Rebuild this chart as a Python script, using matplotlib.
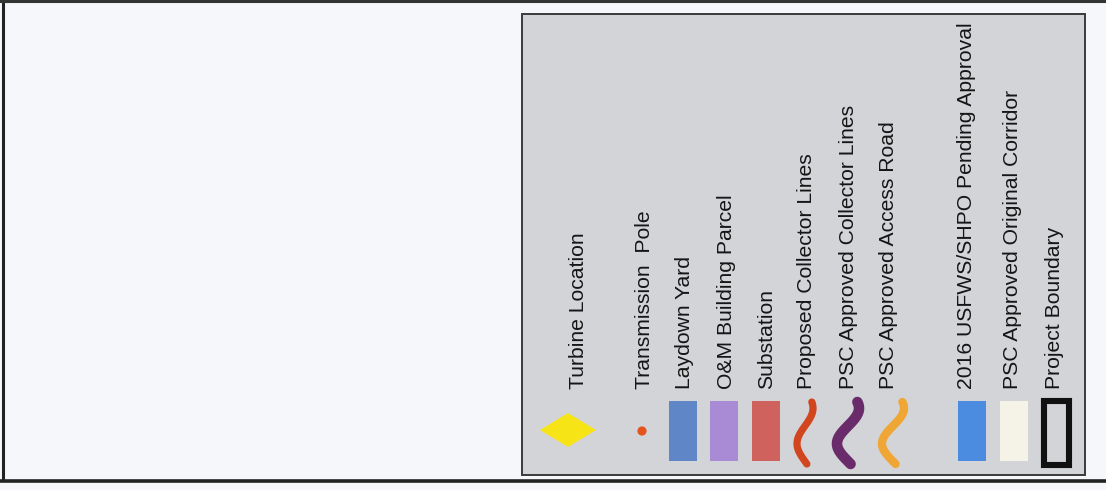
"""Map legend panel (rotated 90 degrees) redrawn with matplotlib."""
import numpy as np
import matplotlib
matplotlib.use("Agg")
import matplotlib.pyplot as plt
from matplotlib.patches import Polygon, Rectangle, Circle

plt.rcParams['font.family'] = ['Liberation Sans', 'DejaVu Sans']

# legend entries, in order
labels = [
    "Turbine Location", "Transmission  Pole", "Laydown Yard", "O&M Building Parcel",
    "Substation", "Proposed Collector Lines", "PSC Approved Collector Lines",
    "PSC Approved Access Road", "2016 USFWS/SHPO Pending Approval",
    "PSC Approved Original Corridor", "Project Boundary",
]
kinds = ["diamond", "dot", "rect", "rect", "rect", "wave", "wave", "wave", "rect", "rect", "outline"]
colors = ["#f7e416", "#e5531f", "#5f86c6", "#a98ad5", "#cf625c", "#d1461f",
          "#6a2b6a", "#f0a634", "#4b8be0", "#f5f2e8", "#111111"]

# layout (pixel-like units, y grows downward)
sym_x = [568, 642, 683, 724, 766, 805, 848, 893, 972, 1014, 1056]
lab_x = [578, 645, 684, 726, 767, 807, 848, 889, 966, 1013, 1054]
wave_lw = {5: 5.2, 6: 7.6, 7: 6.0}
wave_amp = {5: 8, 6: 11, 7: 11}

fig = plt.figure(figsize=(11.06, 4.9), dpi=100)
fig.patch.set_facecolor("#f5f7fb")
ax = fig.add_axes([0, 0, 1, 1])
ax.set_xlim(0, 1106)
ax.set_ylim(490, 0)
ax.axis("off")

# outer sheet frame
ax.plot([3, 3], [1, 481], color="#222222", lw=2.2, solid_capstyle="butt")
ax.plot([0, 1106], [1.5, 1.5], color="#333333", lw=2.2)
ax.plot([0, 1106], [480.5, 480.5], color="#222222", lw=2.6)

# legend box
ax.add_patch(Rectangle((522, 14), 563, 461, facecolor="#d3d4d8",
                       edgecolor="#3a3a3a", lw=1.4))

for i, (lab, kind, col) in enumerate(zip(labels, kinds, colors)):
    cx = sym_x[i]
    if kind == "diamond":
        ax.add_patch(Polygon([(cx - 28, 430), (cx, 413), (cx + 28, 430), (cx, 447)],
                             closed=True, facecolor=col, edgecolor="none"))
    elif kind == "dot":
        ax.add_patch(Circle((cx, 431), 4.6, facecolor=col, edgecolor="none"))
    elif kind == "rect":
        ax.add_patch(Rectangle((cx - 14, 401), 28, 60, facecolor=col, edgecolor="none"))
    elif kind == "outline":
        ax.add_patch(Rectangle((cx - 12.5, 401), 25, 64, facecolor="none",
                               edgecolor=col, lw=4.4))
    elif kind == "wave":
        u = np.linspace(0, 1, 60)
        wx = cx + wave_amp[i] * np.cos(1.75 * np.pi * (u - 0.1))
        wy = 402 + 62 * u
        ax.plot(wx, wy, color=col, lw=wave_lw[i], solid_capstyle="round")
    ax.text(lab_x[i], 389, lab, rotation=90, ha="center", va="bottom",
            fontsize=15.2, color="#151515")

fig.savefig("out.png", dpi=100, facecolor=fig.get_facecolor())
